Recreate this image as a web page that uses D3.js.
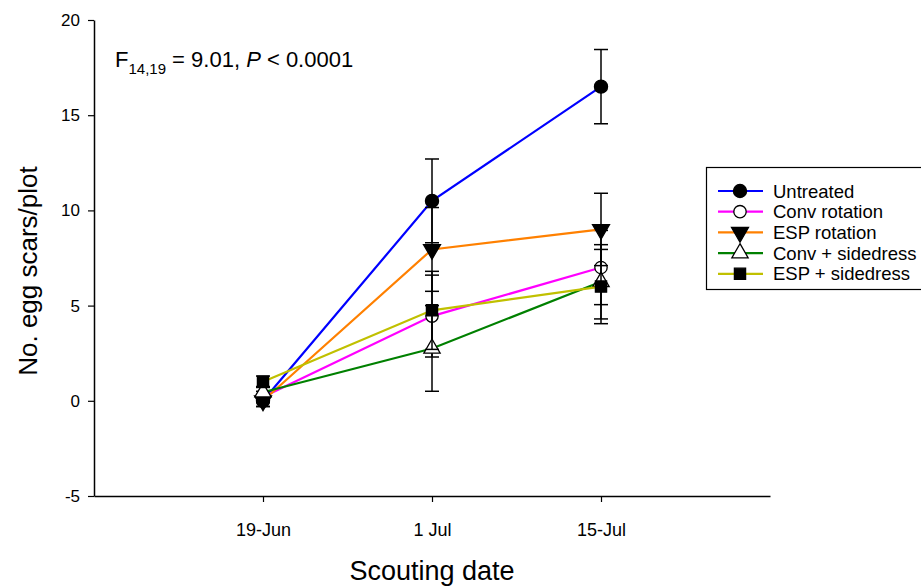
<!DOCTYPE html>
<html>
<head>
<meta charset="utf-8">
<script src="https://cdn.jsdelivr.net/npm/d3@7"></script>
<style>
  body { margin: 0; background: #fff; }
  text { font-family: Arial, "Liberation Sans", sans-serif; fill: #000; }
</style>
</head>
<body>
<div id="viz-container"></div>
<script>
var dates = ["19-Jun", "1 Jul", "15-Jul"];
var seriesNames = ["Untreated", "Conv rotation", "ESP rotation", "Conv + sidedress", "ESP + sidedress"];
var untreated = [0.0, 10.5, 16.5];
var untreatedSE = [0.3, 2.2, 1.95];
var convRotation = [0.2, 4.45, 7.0];
var convRotationSE = [0.3, 2.15, 1.95];
var espRotation = [0.0, 7.95, 9.0];
var espRotationSE = [0.3, 2.2, 1.9];
var convSidedress = [0.45, 2.75, 6.25];
var convSidedressSE = [0.3, 2.25, 1.95];
var espSidedress = [1.0, 4.75, 6.0];
var espSidedressSE = [0.3, 2.05, 1.95];
var yTicks = [-5, 0, 5, 10, 15, 20];

var colors = ["#0000ff", "#ff00ff", "#ff8000", "#008000", "#c0c000"];

var series = [
  {name: seriesNames[0], values: untreated, se: untreatedSE, symbol: d3.symbolCircle, fill: "#000", size: 135},
  {name: seriesNames[1], values: convRotation, se: convRotationSE, symbol: d3.symbolCircle, fill: "#fff", size: 120},
  {name: seriesNames[2], values: espRotation, se: espRotationSE, symbol: "down", fill: "#000", size: 125},
  {name: seriesNames[3], values: convSidedress, se: convSidedressSE, symbol: d3.symbolTriangle, fill: "#fff", size: 115},
  {name: seriesNames[4], values: espSidedress, se: espSidedressSE, symbol: d3.symbolSquare, fill: "#000", size: 125}
];

var width = 921, height = 588;
var plot = {left: 94, right: 770, top: 20, bottom: 496};

var svg = d3.select("#viz-container")
  .append("svg")
    .attr("width", width)
    .attr("height", height);

var xScale = d3.scaleLinear().domain([0, 4]).range([plot.left, plot.right]);
var yScale = d3.scaleLinear().domain([-5, 20]).range([plot.bottom, plot.top]);

// axes
var xAxis = d3.axisBottom(xScale)
  .tickValues([1, 2, 3])
  .tickFormat(function(d){ return dates[d - 1]; })
  .tickSizeInner(6)
  .tickSizeOuter(0);
var yAxis = d3.axisLeft(yScale)
  .tickValues(yTicks)
  .tickFormat(function(d){ return String(d); })
  .tickSizeInner(6)
  .tickSizeOuter(0);

var gx = svg.append("g")
  .attr("transform", "translate(0," + plot.bottom + ")")
  .call(xAxis);
gx.select(".domain").attr("stroke", "#000").attr("stroke-width", 1.5);
gx.selectAll(".tick line").attr("stroke", "#000").attr("stroke-width", 1.2);
gx.selectAll(".tick text")
  .attr("dy", null)
  .attr("y", 40)
  .style("font-size", "18px");

var gy = svg.append("g")
  .attr("transform", "translate(" + plot.left + ",0)")
  .call(yAxis);
gy.select(".domain").attr("stroke", "#000").attr("stroke-width", 1.5);
gy.selectAll(".tick line").attr("stroke", "#000").attr("stroke-width", 1.2);
gy.selectAll(".tick text")
  .attr("x", -14)
  .style("font-size", "17px");

// axis titles
svg.append("text")
  .attr("x", 432)
  .attr("y", 580)
  .attr("text-anchor", "middle")
  .style("font-size", "27px")
  .text("Scouting date");

svg.append("text")
  .attr("transform", "translate(37," + 271 + ") rotate(-90)")
  .attr("text-anchor", "middle")
  .style("font-size", "26px")
  .text("No. egg scars/plot");

// stats annotation
var stat = svg.append("text")
  .attr("x", 115)
  .attr("y", 67)
  .style("font-size", "22px");
stat.append("tspan").text("F");
stat.append("tspan").attr("dy", 7).style("font-size", "15px").text("14,19");
stat.append("tspan").attr("dy", -7).text(" = 9.01, ");
stat.append("tspan").style("font-style", "italic").text("P");
stat.append("tspan").text(" < 0.0001");

var symbolPath = function(s) {
  if (s.symbol === "down") {
    return d3.symbol().type(d3.symbolTriangle).size(s.size)();
  }
  return d3.symbol().type(s.symbol).size(s.size)();
};
var symbolTransform = function(s, x, y) {
  if (s.symbol === "down") {
    return "translate(" + x + "," + y + ") rotate(180)";
  }
  return "translate(" + x + "," + y + ")";
};

var line = d3.line()
  .x(function(d, i){ return xScale(i + 1); })
  .y(function(d){ return yScale(d); });

series.forEach(function(s, k){
  var g = svg.append("g");

  g.append("path")
    .attr("d", line(s.values))
    .attr("fill", "none")
    .attr("stroke", colors[k])
    .attr("stroke-width", 2.2);

  s.values.forEach(function(v, i){
    var x = xScale(i + 1);
    var hi = yScale(v + s.se[i]);
    var lo = yScale(v - s.se[i]);
    g.append("line")
      .attr("x1", x).attr("x2", x)
      .attr("y1", hi).attr("y2", lo)
      .attr("stroke", "#000").attr("stroke-width", 1.5);
    [hi, lo].forEach(function(y){
      g.append("line")
        .attr("x1", x - 7).attr("x2", x + 7)
        .attr("y1", y).attr("y2", y)
        .attr("stroke", "#000").attr("stroke-width", 1.5);
    });
  });

  g.selectAll(".marker")
    .data(s.values)
    .enter().append("path")
    .attr("class", "marker")
    .attr("d", symbolPath(s))
    .attr("transform", function(d, i){ return symbolTransform(s, xScale(i + 1), yScale(d)); })
    .attr("fill", s.fill)
    .attr("stroke", "#000")
    .attr("stroke-width", 1.3);
});

// legend
var legend = svg.append("g");
legend.append("rect")
  .attr("x", 706.5)
  .attr("y", 167.5)
  .attr("width", 216)
  .attr("height", 122)
  .attr("fill", "#fff")
  .attr("stroke", "#000")
  .attr("stroke-width", 1.2);

series.forEach(function(s, k){
  var y = 191 + k * 20.7;
  legend.append("line")
    .attr("x1", 718).attr("x2", 763)
    .attr("y1", y).attr("y2", y)
    .attr("stroke", colors[k])
    .attr("stroke-width", 2.2);
  legend.append("path")
    .attr("d", symbolPath(s))
    .attr("transform", symbolTransform(s, 740, y))
    .attr("fill", s.fill)
    .attr("stroke", "#000")
    .attr("stroke-width", 1.3);
  legend.append("text")
    .attr("x", 773)
    .attr("y", y + 6.5)
    .style("font-size", "18.5px")
    .text(s.name);
});
</script>
</body>
</html>
